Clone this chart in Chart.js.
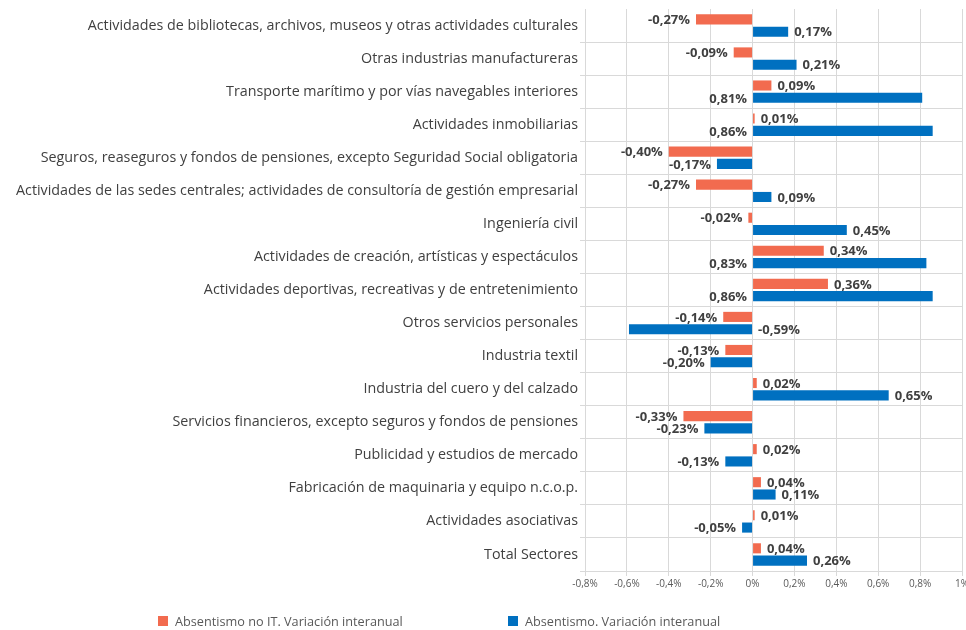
<!DOCTYPE html>
<html lang="es">
<head>
<meta charset="utf-8">
<script src="https://cdn.jsdelivr.net/npm/chart.js@4.4.1/dist/chart.umd.min.js"></script>
<style>
  html, body { margin: 0; padding: 0; background: #fff; }
  #wrap { position: relative; width: 966px; height: 630px; }
  #legend { position: absolute; top: 612px; left: 0; width: 966px; height: 18px;
            font-family: 'Open Sans', sans-serif; font-size: 12.7px; color: #595959; }
  .item { position: absolute; top: 0; display: flex; align-items: center; height: 18px; }
  .sw { width: 10px; height: 10px; margin-right: 7px; }
</style>
</head>
<body>
<div id="wrap">
  <canvas id="chart" width="966" height="630"></canvas>
  <div id="legend"></div>
</div>
<script>
// --- datos (variación interanual, en %) ---
const categories = [
  'Actividades de bibliotecas, archivos, museos y otras actividades culturales',
  'Otras industrias manufactureras',
  'Transporte marítimo y por vías navegables interiores',
  'Actividades inmobiliarias',
  'Seguros, reaseguros y fondos de pensiones, excepto Seguridad Social obligatoria',
  'Actividades de las sedes centrales; actividades de consultoría de gestión empresarial',
  'Ingeniería civil',
  'Actividades de creación, artísticas y espectáculos',
  'Actividades deportivas, recreativas y de entretenimiento',
  'Otros servicios personales',
  'Industria textil',
  'Industria del cuero y del calzado',
  'Servicios financieros, excepto seguros y fondos de pensiones',
  'Publicidad y estudios de mercado',
  'Fabricación de maquinaria y equipo n.c.o.p.',
  'Actividades asociativas',
  'Total Sectores'
];
const absNoIT = [-0.27, -0.09, 0.09, 0.01, -0.40, -0.27, -0.02, 0.34, 0.36, -0.14, -0.13, 0.02, -0.33, 0.02, 0.04, 0.01, 0.04];
const absTotal = [0.17, 0.21, 0.81, 0.86, -0.17, 0.09, 0.45, 0.83, 0.86, -0.59, -0.20, 0.65, -0.23, -0.13, 0.11, -0.05, 0.26];
const xTicks = [-0.8, -0.6, -0.4, -0.2, 0, 0.2, 0.4, 0.6, 0.8, 1];
const seriesNames = ['Absentismo no IT. Variación interanual', 'Absentismo. Variación interanual'];
const seriesColors = ['#F26B4F', '#0070C0'];

const FONT = "'Open Sans', sans-serif";
const GRID = '#d9d9d9';

// formato español: coma decimal
const fmtLabel = v => v.toFixed(2).replace('.', ',') + '%';
const fmtTick = v => (Math.round(v * 10) / 10).toString().replace('.', ',') + '%';

// etiquetas de valor al final de cada barra (si no caben, al otro lado del eje)
const barLabels = {
  id: 'barLabels',
  afterDatasetsDraw(chart) {
    const ctx = chart.ctx;
    const area = chart.chartArea;
    ctx.save();
    ctx.font = 'bold 13px ' + FONT;
    ctx.fillStyle = '#404040';
    ctx.textBaseline = 'middle';
    chart.data.datasets.forEach((ds, i) => {
      chart.getDatasetMeta(i).data.forEach((bar, j) => {
        const v = ds.data[j];
        const txt = fmtLabel(v);
        const w = ctx.measureText(txt).width;
        let x, align;
        if (v >= 0) {
          x = bar.x + 6; align = 'left';
          if (x + w > area.right) { x = bar.base - 6; align = 'right'; }
        } else {
          x = bar.x - 6; align = 'right';
          if (x - w < area.left) { x = bar.base + 6; align = 'left'; }
        }
        ctx.textAlign = align;
        ctx.fillText(txt, x, bar.y + 1);
      });
    });
    ctx.restore();
  }
};

new Chart(document.getElementById('chart').getContext('2d'), {
  type: 'bar',
  data: {
    labels: categories,
    datasets: [
      { label: seriesNames[0], data: absNoIT, backgroundColor: seriesColors[0] },
      { label: seriesNames[1], data: absTotal, backgroundColor: seriesColors[1] }
    ]
  },
  options: {
    indexAxis: 'y',
    responsive: false,
    animation: false,
    categoryPercentage: 0.745,
    barPercentage: 0.82,
    layout: { padding: { top: 9, left: 0, right: 0, bottom: 29 } },
    plugins: { legend: { display: false }, tooltip: { enabled: false } },
    scales: {
      x: {
        min: -0.8,
        max: 1,
        grid: { color: GRID, tickLength: 5 },
        border: { display: false },
        ticks: { color: '#595959', font: { family: FONT, size: 10 }, padding: 2, callback: fmtTick },
        afterBuildTicks: s => { s.ticks = xTicks.map(v => ({ value: v })); },
        afterFit: s => { s.height = 30; s.paddingRight = 4; s.paddingLeft = 0; }
      },
      y: {
        grid: {
          offset: true,
          tickLength: 5,
          color: c => (c.index === 0 ? 'rgba(0,0,0,0)' : GRID)
        },
        border: { display: false },
        ticks: { color: '#404040', font: { family: FONT, size: 14.3 }, padding: 2, autoSkip: false },
        afterFit: s => { s.width = 585; s.paddingTop = 0; s.paddingBottom = 0; }
      }
    }
  },
  plugins: [barLabels]
});

// leyenda abajo
const legend = document.getElementById('legend');
const legendX = [158, 508];
seriesNames.forEach((name, i) => {
  legend.innerHTML += `<div class="item" style="left:${legendX[i]}px">
      <div class="sw" style="background:${seriesColors[i]}"></div><span>${name}</span></div>`;
});
</script>
</body>
</html>
